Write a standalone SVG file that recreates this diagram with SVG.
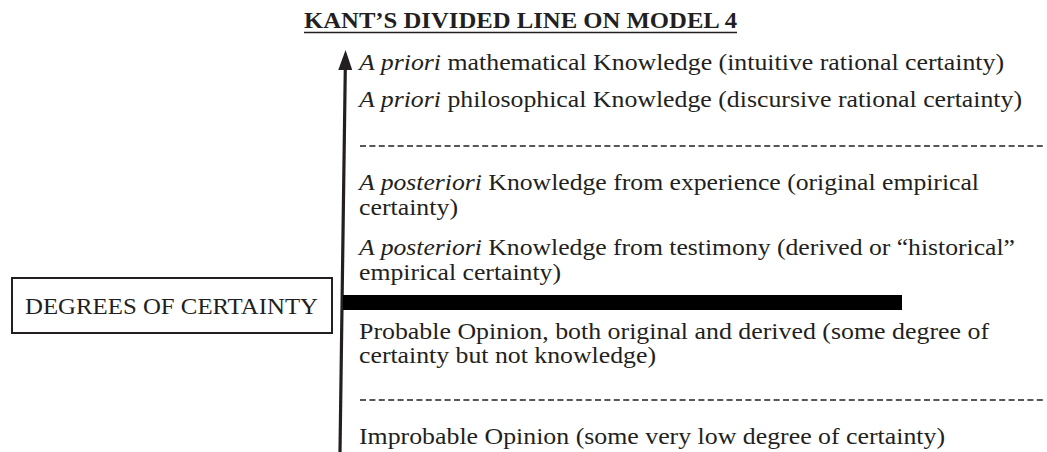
<svg xmlns="http://www.w3.org/2000/svg" width="1047" height="452" viewBox="0 0 1047 452" font-family="'Liberation Serif', Tinos, 'Times New Roman', Times, serif">
  <style>
    text { font-family: 'Liberation Serif', Tinos, 'Times New Roman', Times, serif; font-size: 24px; fill: #231f20; }
    .title { font-weight: bold; font-size: 23px; }
    .it { font-style: italic; }
    .dash { stroke: #231f20; stroke-width: 1.5; stroke-dasharray: 6 3.4; fill: none; }
    .axis { stroke: #231f20; stroke-width: 3.2; fill: none; }
  </style>
  <defs>
    <marker id="arrowhead" markerWidth="20" markerHeight="14" refX="2" refY="7" orient="auto" markerUnits="userSpaceOnUse" viewBox="0 0 20 14">
      <polygon points="0,0 20,7 0,14" fill="#231f20"/>
    </marker>
  </defs>
  <rect width="1047" height="452" fill="#ffffff"/>

  <g id="title">
    <text class="title" x="304" y="28" textLength="433" lengthAdjust="spacingAndGlyphs">KANT’S DIVIDED LINE ON MODEL 4</text>
    <line x1="304" y1="32.5" x2="737" y2="32.5" stroke="#231f20" stroke-width="1.5"/>
  </g>

  <g id="connectors">
    <line class="axis" x1="340" y1="452" x2="345.3" y2="68" marker-end="url(#arrowhead)"/>
    <line class="dash" x1="360" y1="146" x2="1045" y2="146"/>
    <line class="dash" x1="360" y1="400" x2="1045" y2="400"/>
    <rect x="343" y="295" width="559" height="15" fill="#000000"/>
  </g>

  <g id="degrees-box">
    <rect x="12" y="278" width="320" height="55" fill="none" stroke="#231f20" stroke-width="2"/>
    <text x="25" y="314" textLength="293" lengthAdjust="spacingAndGlyphs">DEGREES OF CERTAINTY</text>
  </g>

  <g id="apriori-math">
    <text x="359" y="70" textLength="645" lengthAdjust="spacingAndGlyphs"><tspan class="it">A priori</tspan> mathematical Knowledge (intuitive rational certainty)</text>
  </g>
  <g id="apriori-phil">
    <text x="359" y="107" textLength="663" lengthAdjust="spacingAndGlyphs"><tspan class="it">A priori</tspan> philosophical Knowledge (discursive rational certainty)</text>
  </g>
  <g id="aposteriori-experience">
    <text x="359" y="190" textLength="620" lengthAdjust="spacingAndGlyphs"><tspan class="it">A posteriori</tspan> Knowledge from experience (original empirical</text>
    <text x="359" y="215" textLength="99" lengthAdjust="spacingAndGlyphs">certainty)</text>
  </g>
  <g id="aposteriori-testimony">
    <text x="359" y="255" textLength="656" lengthAdjust="spacingAndGlyphs"><tspan class="it">A posteriori</tspan> Knowledge from testimony (derived or “historical”</text>
    <text x="359" y="280" textLength="202" lengthAdjust="spacingAndGlyphs">empirical certainty)</text>
  </g>
  <g id="probable-opinion">
    <text x="359" y="339" textLength="630" lengthAdjust="spacingAndGlyphs">Probable Opinion, both original and derived (some degree of</text>
    <text x="359" y="363" textLength="297" lengthAdjust="spacingAndGlyphs">certainty but not knowledge)</text>
  </g>
  <g id="improbable-opinion">
    <text x="359" y="444" textLength="586" lengthAdjust="spacingAndGlyphs">Improbable Opinion (some very low degree of certainty)</text>
  </g>
</svg>
